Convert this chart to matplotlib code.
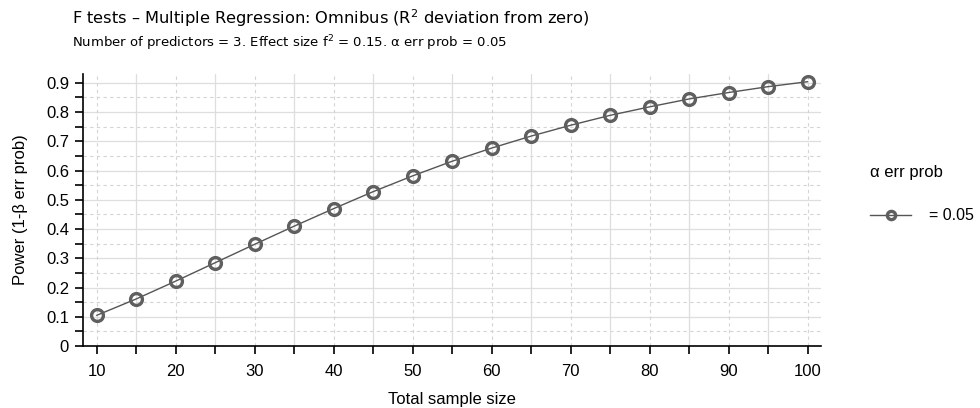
import matplotlib.pyplot as plt
from matplotlib.ticker import MultipleLocator, FuncFormatter

sample_size = [10, 15, 20, 25, 30, 35, 40, 45, 50, 55, 60, 65, 70, 75, 80, 85, 90, 95, 100]
power = [0.105, 0.161, 0.222, 0.285, 0.348, 0.410, 0.470, 0.528, 0.582, 0.632,
         0.677, 0.718, 0.755, 0.789, 0.818, 0.845, 0.867, 0.887, 0.904]
alpha_label = "= 0.05"

title = "F tests \u2013 Multiple Regression: Omnibus (R$^2$ deviation from zero)"
subtitle = "Number of predictors = 3. Effect size f$^2$ = 0.15. \u03b1 err prob = 0.05"

plt.rcParams['font.family'] = ['Liberation Sans', 'DejaVu Sans']
plt.rcParams['mathtext.default'] = 'regular'

fig = plt.figure(figsize=(9.8, 4.08), dpi=100)
ax = fig.add_axes([0.0847, 0.152, 0.7531, 0.6664])

ax.set_xlim(8.25, 101.7)
ax.set_ylim(0, 0.93)

ax.xaxis.set_major_locator(MultipleLocator(10))
ax.xaxis.set_minor_locator(MultipleLocator(5))
ax.yaxis.set_major_locator(MultipleLocator(0.1))
ax.yaxis.set_minor_locator(MultipleLocator(0.05))
ax.yaxis.set_major_formatter(FuncFormatter(lambda v, p: f"{v:.1f}" if v > 0.001 else "0"))

# grid: solid light lines at 0.1 and 15,25..; dashed at 0.05 steps and 10s
for y in [i / 10 for i in range(1, 10)]:
    ax.axhline(y, color='#dedede', lw=0.9, zorder=0)
for y in [0.05 + i / 10 for i in range(9)]:
    ax.axhline(y, color='#d4d4d4', lw=0.8, ls=(0, (3, 3)), zorder=0)
for x in range(15, 100, 10):
    ax.axvline(x, color='#dedede', lw=0.9, zorder=0)
for x in range(10, 101, 10):
    ax.axvline(x, color='#d4d4d4', lw=0.8, ls=(0, (3, 3)), zorder=0)

line, = ax.plot(sample_size, power, color='#555555', lw=1.0, marker='o', ms=8.5,
                mfc='none', mec='#5f5f5f', mew=2.4, zorder=3, clip_on=False)

for s in ['top', 'right']:
    ax.spines[s].set_visible(False)
for s in ['left', 'bottom']:
    ax.spines[s].set_linewidth(1.2)

ax.tick_params(which='both', direction='out', length=6, width=1.2, labelsize=12)
ax.tick_params(axis='x', pad=7)
ax.tick_params(axis='y', pad=4)
ax.set_xlabel("Total sample size", fontsize=12, labelpad=9)
ax.set_ylabel("Power (1-\u03b2 err prob)", fontsize=12, labelpad=13)

fig.text(0.0735, 0.955, title, family='DejaVu Sans', fontsize=11.7, va='center')
fig.text(0.0735, 0.895, subtitle, family='DejaVu Sans', fontsize=9.5, va='center')

fig.text(0.888, 0.576, "\u03b1 err prob", fontsize=12, va='center')
leg = ax.legend([line], [alpha_label], loc='center left', bbox_to_anchor=(0.8812, 0.471),
                bbox_transform=fig.transFigure, frameon=False, fontsize=11.5,
                handlelength=2.6, markerscale=0.7, handletextpad=1.1, borderpad=0.4,
                borderaxespad=0)

fig.savefig("out.png", dpi=100)
